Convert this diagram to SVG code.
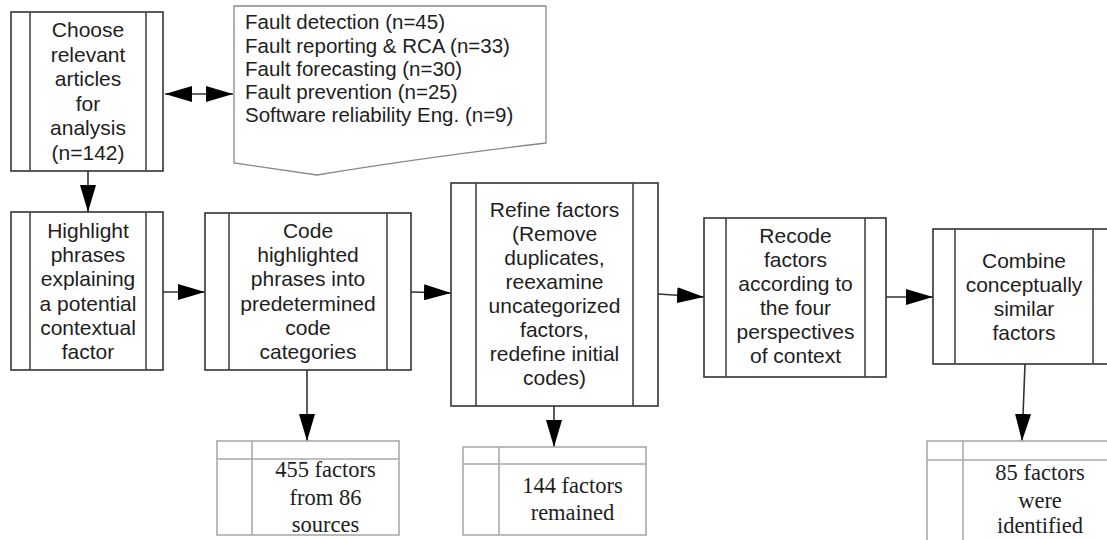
<svg xmlns="http://www.w3.org/2000/svg" width="1107" height="540" viewBox="0 0 1107 540">
<style>
.box{fill:#fff;stroke:#333;stroke-width:1.6}
.bar{stroke:#444;stroke-width:1.6}
.doc{fill:#fff;stroke:#888;stroke-width:1.3}
.tbl{fill:#fff;stroke:#aaa;stroke-width:1.6}
.tl{stroke:#aaa;stroke-width:1.6}
.t{font-family:"Liberation Sans",Arial,sans-serif;font-size:21px;fill:#1e1e1e;text-anchor:middle}
.tl2{font-family:"Liberation Sans",Arial,sans-serif;font-size:20.5px;fill:#1e1e1e}
.s{font-family:"Liberation Serif","Times New Roman",serif;font-size:22.5px;fill:#1e1e1e;text-anchor:middle}
.c{stroke:#333;stroke-width:1.6;fill:none}
</style>
<defs>
<marker id="ah" markerWidth="27" markerHeight="16" refX="27" refY="8" orient="auto" markerUnits="userSpaceOnUse">
<path d="M0,0 L27,8 L0,16 Z" fill="#000"/>
</marker>
<marker id="ahs" markerWidth="27" markerHeight="16" refX="27" refY="8" orient="auto-start-reverse" markerUnits="userSpaceOnUse">
<path d="M0,0 L27,8 L0,16 Z" fill="#000"/>
</marker>
</defs>

<g id="connectors">
<line class="c" x1="165" y1="94" x2="233" y2="94" marker-start="url(#ahs)" marker-end="url(#ah)"/>
<line class="c" x1="88" y1="171" x2="88" y2="212" marker-end="url(#ah)"/>
<line class="c" x1="163" y1="292" x2="205" y2="292" marker-end="url(#ah)"/>
<line class="c" x1="411" y1="292" x2="451" y2="293" marker-end="url(#ah)"/>
<line class="c" x1="658" y1="294" x2="704" y2="297" marker-end="url(#ah)"/>
<line class="c" x1="886" y1="297" x2="933" y2="297" marker-end="url(#ah)"/>
<line class="c" x1="307" y1="370" x2="307" y2="441" marker-end="url(#ah)"/>
<line class="c" x1="554" y1="406" x2="554" y2="447" marker-end="url(#ah)"/>
<line class="c" x1="1025" y1="364" x2="1022" y2="441" marker-end="url(#ah)"/>
</g>

<g id="choose">
<rect class="box" x="11" y="12" width="152" height="159"/>
<line class="bar" x1="30" y1="12" x2="30" y2="171"/>
<line class="bar" x1="146" y1="12" x2="146" y2="171"/>
<text class="t" x="88" y="37">Choose</text>
<text class="t" x="88" y="61.5">relevant</text>
<text class="t" x="88" y="86">articles</text>
<text class="t" x="88" y="110.5">for</text>
<text class="t" x="88" y="135">analysis</text>
<text class="t" x="88" y="159.5">(n=142)</text>
</g>

<g id="categories">
<path class="doc" d="M234,6 L546,6 L546,143 Q420,158 317,175 Q276,169 234,163 Z"/>
<text class="tl2" x="245" y="29">Fault detection (n=45)</text>
<text class="tl2" x="245" y="52.5">Fault reporting &amp; RCA (n=33)</text>
<text class="tl2" x="245" y="76">Fault forecasting (n=30)</text>
<text class="tl2" x="245" y="99">Fault prevention (n=25)</text>
<text class="tl2" x="245" y="122">Software reliability Eng. (n=9)</text>
</g>

<g id="highlight">
<rect class="box" x="11" y="212" width="152" height="158"/>
<line class="bar" x1="30" y1="212" x2="30" y2="370"/>
<line class="bar" x1="146" y1="212" x2="146" y2="370"/>
<text class="t" x="88" y="238">Highlight</text>
<text class="t" x="88" y="262">phrases</text>
<text class="t" x="88" y="286">explaining</text>
<text class="t" x="88" y="310.5">a potential</text>
<text class="t" x="88" y="335">contextual</text>
<text class="t" x="88" y="359">factor</text>
</g>

<g id="code">
<rect class="box" x="205" y="213" width="206" height="157"/>
<line class="bar" x1="229" y1="213" x2="229" y2="370"/>
<line class="bar" x1="387" y1="213" x2="387" y2="370"/>
<text class="t" x="308" y="238">Code</text>
<text class="t" x="308" y="262">highlighted</text>
<text class="t" x="308" y="286">phrases into</text>
<text class="t" x="308" y="310.5">predetermined</text>
<text class="t" x="308" y="334.5">code</text>
<text class="t" x="308" y="359">categories</text>
</g>

<g id="refine">
<rect class="box" x="451" y="183" width="207" height="223"/>
<line class="bar" x1="476" y1="183" x2="476" y2="406"/>
<line class="bar" x1="633" y1="183" x2="633" y2="406"/>
<text class="t" x="554.5" y="217">Refine factors</text>
<text class="t" x="554.5" y="241">(Remove</text>
<text class="t" x="554.5" y="265">duplicates,</text>
<text class="t" x="554.5" y="289">reexamine</text>
<text class="t" x="554.5" y="313">uncategorized</text>
<text class="t" x="554.5" y="337">factors,</text>
<text class="t" x="554.5" y="361">redefine initial</text>
<text class="t" x="554.5" y="385">codes)</text>
</g>

<g id="recode">
<rect class="box" x="704" y="218" width="182" height="159"/>
<line class="bar" x1="726" y1="218" x2="726" y2="377"/>
<line class="bar" x1="865" y1="218" x2="865" y2="377"/>
<text class="t" x="795.5" y="243">Recode</text>
<text class="t" x="795.5" y="267">factors</text>
<text class="t" x="795.5" y="291">according to</text>
<text class="t" x="795.5" y="315">the four</text>
<text class="t" x="795.5" y="339">perspectives</text>
<text class="t" x="795.5" y="363">of context</text>
</g>

<g id="combine">
<rect class="box" x="933" y="229" width="182" height="135"/>
<line class="bar" x1="955" y1="229" x2="955" y2="364"/>
<line class="bar" x1="1093" y1="229" x2="1093" y2="364"/>
<text class="t" x="1024" y="268">Combine</text>
<text class="t" x="1024" y="292">conceptually</text>
<text class="t" x="1024" y="316">similar</text>
<text class="t" x="1024" y="340">factors</text>
</g>

<g id="result455">
<rect class="tbl" x="217" y="441" width="182" height="94"/>
<line class="tl" x1="217" y1="459" x2="399" y2="459"/>
<line class="tl" x1="252" y1="441" x2="252" y2="535"/>
<text class="s" x="325.5" y="477">455 factors</text>
<text class="s" x="325.5" y="505">from 86</text>
<text class="s" x="325.5" y="532">sources</text>
</g>

<g id="result144">
<rect class="tbl" x="463" y="447" width="183" height="88"/>
<line class="tl" x1="463" y1="464" x2="646" y2="464"/>
<line class="tl" x1="499" y1="447" x2="499" y2="535"/>
<text class="s" x="572.5" y="493">144 factors</text>
<text class="s" x="572.5" y="520">remained</text>
</g>

<g id="result85">
<rect class="tbl" x="927" y="441" width="190" height="110"/>
<line class="tl" x1="927" y1="460" x2="1117" y2="460"/>
<line class="tl" x1="963" y1="441" x2="963" y2="551"/>
<text class="s" x="1040" y="480">85 factors</text>
<text class="s" x="1040" y="508">were</text>
<text class="s" x="1040" y="533">identified</text>
</g>
</svg>
